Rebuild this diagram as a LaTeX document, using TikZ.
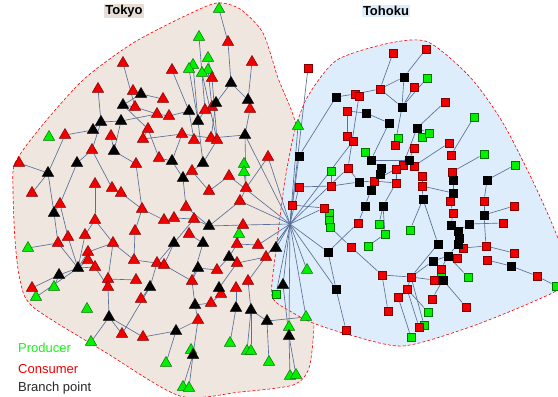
\documentclass[tikz,border=0pt]{standalone}
\usepackage{fontspec}
\setmainfont{Liberation Sans}
\usetikzlibrary{shapes.geometric,backgrounds}
\definecolor{tkfill}{HTML}{EFE6DF}
\definecolor{thfill}{HTML}{DDEDFB}
\definecolor{prodgreen}{HTML}{00F000}
\definecolor{consred}{HTML}{F00000}
\definecolor{linkblue}{HTML}{5A6F98}

\tikzset{
  tri/.style={regular polygon, regular polygon sides=3, minimum size=13pt, inner sep=0pt},
  sq/.style={rectangle, minimum size=8.5pt, inner sep=0pt},
  prod/.style={fill=prodgreen, draw=green!45!black, line width=0.5pt},
  cons/.style={fill=consred, draw=red!50!black, line width=0.5pt},
  branch/.style={fill=black, draw=black, line width=0.5pt},
  link/.style={draw=linkblue, line width=0.65pt},
  region/.style={draw=red, densely dashed, line width=0.6pt},
  legend/.style={anchor=west, inner sep=0pt, font=\fontsize{13}{15}\selectfont}
}

\begin{document}
\begin{tikzpicture}[x=1pt, y=-1pt]
\useasboundingbox (0,0) rectangle (558,397);

% Tokyo nodes
\foreach \n/\x/\y in {tp1/219/9, tp2/199/37, tp3/208/58, tp4/193/65, tp5/189/69, tp6/208/70,
  tp7/202/73, tp8/49/137, tp9/244/164, tp10/244/172, tp11/239/234, tp12/28/248, tp13/54/287,
  tp14/36/297, tp15/87/309, tp16/91/342, tp17/230/343, tp18/191/350, tp19/247/351, tp20/251/351,
  tp21/166/363, tp22/269/362, tp23/183/387, tp24/189/388, tp25/298/126, tp26/307/270,
  tp27/306/317, tp28/289/327, tp29/290/376, tp30/296/375}
  \node[tri, prod] (\n) at (\x,\y) {};
\foreach \n/\x/\y in {tc1/228/42, tc2/123/63, tc3/172/70, tc4/252/62, tc5/212/78, tc6/98/89,
  tc7/133/91, tc8/163/99, tc9/135/107, tc10/212/107, tc11/205/110, tc12/250/109, tc13/157/114,
  tc14/169/116, tc15/148/129, tc16/65/135, tc17/111/136, tc18/143/139, tc19/182/134, tc20/194/140,
  tc21/211/138, tc22/217/140, tc23/92/150, tc24/19/163, tc25/136/164, tc26/159/158, tc27/268/157,
  tc28/192/171, tc29/229/176, tc30/95/184, tc31/112/188, tc32/121/193, tc33/32/193, tc34/209/191,
  tc35/246/188, tc36/240/201, tc37/60/204, tc38/142/209, tc39/186/207, tc40/95/220, tc41/164/220,
  tc42/174/218, tc43/194/219, tc44/243/225, tc45/68/237, tc46/85/235, tc47/135/231, tc48/189/234,
  tc49/58/243, tc50/113/243, tc51/237/244, tc52/258/245, tc53/88/252, tc54/88/260, tc55/134/260,
  tc56/157/263, tc57/164/265, tc58/237/263, tc59/266/257, tc60/95/267, tc61/217/270, tc62/108/279,
  tc63/136/280, tc64/192/281, tc65/248/281, tc66/32/288, tc67/108/287, tc68/221/294, tc69/236/288,
  tc70/141/299, tc71/211/303, tc72/198/320, tc73/122/334, tc74/143/337}
  \node[tri, cons] (\n) at (\x,\y) {};
\foreach \n/\x/\y in {tb1/231/83, tb2/141/94, tb3/248/100, tb4/216/103, tb5/123/105, tb6/189/111,
  tb7/101/122, tb8/121/121, tb9/198/121, tb10/93/130, tb11/245/135, tb12/114/151, tb13/77/163,
  tb14/172/161, tb15/203/163, tb16/48/173, tb17/183/178, tb18/54/213, tb19/209/226, tb20/174/243,
  tb21/203/243, tb22/276/248, tb23/229/257, tb24/78/268, tb25/198/268, tb26/59/275, tb27/150/287,
  tb28/219/288, tb29/283/285, tb30/195/305, tb31/236/308, tb32/251/310, tb33/109/317, tb34/267/321,
  tb35/176/331, tb36/193/355, tb37/289/336}
  \node[tri, branch] (\n) at (\x,\y) {};

% Tohoku nodes
\foreach \n/\x/\y in {hp1/427/78, hp2/474/117, hp3/398/138, hp4/422/137, hp5/429/133, hp6/365/152,
  hp7/484/154, hp8/515/165, hp9/331/171, hp10/329/213, hp11/329/220, hp12/330/227, hp13/379/224,
  hp14/410/230, hp15/385/234, hp16/368/246, hp17/468/277, hp18/441/275, hp19/556/286, hp20/428/312,
  hp21/424/325, hp22/411/337, hp23/276/294}
  \node[sq, prod] (\n) at (\x,\y) {};
\foreach \n/\x/\y in {hc1/308/68, hc2/393/53, hc3/426/49, hc4/414/87, hc5/380/89, hc6/355/94,
  hc7/359/96, hc8/445/102, hc9/347/111, hc10/347/136, hc11/353/141, hc12/395/145, hc13/414/148,
  hc14/449/143, hc15/451/155, hc16/403/165, hc17/414/166, hc18/396/169, hc19/348/168, hc20/452/172,
  hc21/422/176, hc22/422/186, hc23/396/183, hc24/374/181, hc25/331/186, hc26/299/187, hc27/450/201,
  hc28/484/201, hc29/514/206, hc30/292/205, hc31/324/208, hc32/453/213, hc33/358/223, hc34/503/223,
  hc35/351/247, hc36/463/248, hc37/486/246, hc38/514/253, hc39/457/258, hc40/487/260, hc41/441/269,
  hc42/537/276, hc43/382/275, hc44/411/277, hc45/434/280, hc46/407/289, hc47/398/297, hc48/432/299,
  hc49/466/307, hc50/388/311, hc51/419/327, hc52/346/330}
  \node[sq, cons] (\n) at (\x,\y) {};
\foreach \n/\x/\y in {hb1/404/77, hb2/336/97, hb3/402/107, hb4/366/113, hb5/389/123, hb6/417/128,
  hb7/299/156, hb8/371/160, hb9/381/168, hb10/380/174, hb11/409/160, hb12/453/180, hb13/487/180,
  hb14/359/182, hb15/371/190, hb16/453/193, hb17/423/199, hb18/365/206, hb19/383/206, hb20/484/215,
  hb21/451/225, hb22/469/224, hb23/458/231, hb24/459/238, hb25/458/244, hb26/438/244, hb27/328/252,
  hb28/448/256, hb29/433/261, hb30/511/266, hb31/443/280, hb32/336/289}
  \node[sq, branch] (\n) at (\x,\y) {};

\coordinate (hub) at (290,224);

% labels and legend
\node[fill=tkfill!92!gray, inner sep=1pt, font=\bfseries\fontsize{13}{15}\selectfont] (tokyolbl) at (124,11) {Tokyo};
\node[fill=thfill, inner sep=1pt, font=\bfseries\fontsize{13}{15}\selectfont] (tohokulbl) at (386,11) {Tohoku};
\node[legend, text=prodgreen!90!white] (lgprod) at (18,348) {Producer};
\node[legend, text=consred] (lgcons) at (18,369) {Consumer};
\node[legend, text=black!85] (lgbranch) at (18,388) {Branch point};

\begin{pgfonlayer}{background}
  \draw[region, fill=tkfill] plot[smooth cycle, tension=0.45] coordinates {
    (13,190) (15,163) (40,128) (83,80) (133,43) (187,15) (217,3) (240,9) (263,33) (278,78)
    (296,125) (305,200) (312,280) (314,325) (309,368) (293,385) (240,392) (180,396) (105,352)
    (33,307) (20,280) (15,240)};
  \draw[region, fill=thfill] plot[smooth cycle, tension=0.45] coordinates {
    (272,296) (276,250) (285,180) (295,130) (308,96) (337,60) (390,43) (428,42) (470,77)
    (503,123) (537,190) (562,250) (562,285) (537,300) (470,327) (403,346) (350,335) (313,323)
    (290,311)};

  % Tokyo links
  \foreach \a/\b in {tp1/tc1, tc1/tb1, tb1/tb4, tb1/tb3, tc4/tb3, tb3/tc12, tc12/tb11, tb11/tc21,
    tc21/tc19, tc19/tc18, tb11/tc35, tc35/tc27, tc35/tc36, tp2/tc11, tp3/tc5, tp4/tb9, tp5/tb9,
    tp6/tc10, tp7/tc22, tc5/tc22, tb4/tc21, tc10/tb4, tc11/tb9, tc3/tb6, tb6/tc20, tb9/tb15,
    tb15/tc22, tb15/tc28, tc28/tb17, tc28/tc34, tc34/tc29, tp9/tp10, tp10/tc35, tc2/tc9, tc6/tb7,
    tc7/tb2, tb2/tc8, tb2/tb5, tb5/tc9, tc9/tc13, tc13/tc14, tc14/tb6, tb8/tc13, tb7/tb10, tb7/tb8,
    tb10/tc16, tc16/tb16, tb16/tc24, tb16/tc33, tb16/tb18, tb13/tc23, tb13/tc37, tc23/tb7,
    tc23/tc31, tb12/tb8, tb12/tc17, tb12/tc25, tc31/tc32, tc30/tc40, tc15/tc26, tc15/tb5,
    tc26/tb14, tb14/tc19, tb14/tb17, tc25/tc38, tb17/tc39, tc18/tc15, tb18/tc37, tb18/tc49,
    tc37/tc45, tc40/tc46, tc40/tc50, tc46/tb24, tc45/tb24, tc49/tb24, tb24/tc53, tb24/tc54,
    tb24/tb26, tb26/tc66, tb26/tp13, tb24/tp14, tc50/tc53, tc50/tc55, tc50/tc62, tc62/tc63,
    tc62/tc67, tc67/tb33, tb33/tp16, tb33/tc73, tc73/tb27, tb33/tc74, tc74/tb35, tp12/tc49,
    tc47/tc38, tc38/tc41, tc41/tc42, tc42/tc43, tc43/tb19, tb19/tc39, tc43/tb20, tb20/tc56,
    tb20/tc57, tc56/tb27, tb27/tc70, tc57/tc64, tb21/tc64, tc64/tb25, tb25/tc61, tc61/tb23,
    tb23/tc58, tb23/tc51, tc58/tb28, tb28/tc68, tc68/tc71, tc71/tb30, tb30/tc64, tb30/tc72,
    tc72/tb36, tc72/tb35, tb36/tp18, tb36/tp23, tb36/tp24, tb35/tp21, tb31/tp17, tb32/tp19,
    tb32/tp20, tb34/tp22, tc69/tb31, tc65/tb32, tb32/tb34, tb34/tp27, tb37/tp28, tb37/tp29,
    tb37/tp30, tb29/tb37, tc48/tb21, tc51/tc52, tc60/tb24, tc60/tc67, tc36/tb19, tc55/tc56,
    tc59/tc58, tp11/tc51, tc47/tc55, tc32/tc38, tc44/tb19}
    \draw[link] (\a) -- (\b);

  % Tohoku links
  \foreach \a/\b in {hc2/hc5, hc3/hb1, hb1/hc5, hb1/hb3, hc5/hb3, hc5/hc6, hp1/hb3, hc4/hb3,
    hb3/hc12, hb4/hb5, hc9/hb4, hb2/hb7, hc7/hc19, hc6/hb2, hc8/hb6, hb6/hp5, hb6/hp4, hb6/hc16,
    hb5/hb8, hp2/hc15, hc14/hc17, hp7/hc20, hp8/hb13, hb13/hc28, hc28/hb20, hc29/hb20, hb22/hc34,
    hb20/hc37, hc37/hc38, hb30/hc42, hc42/hp19, hc40/hb30, hb12/hc20, hb12/hb16, hb16/hc27,
    hc27/hc32, hc32/hb21, hb21/hb23, hb23/hb24, hb24/hb25, hb25/hb28, hb25/hc36, hb28/hc41,
    hb28/hb29, hb29/hc44, hc41/hb31, hb31/hc45, hb31/hc48, hc45/hc44, hc44/hc43, hc44/hc46,
    hc46/hc47, hc46/hp20, hc46/hc51, hc44/hp21, hc47/hp22, hc43/hc50, hb26/hc44, hb17/hc22,
    hb17/hb26, hb28/hp17, hc39/hb28, hc49/hb31, hb22/hb23, hc26/hc25, hc25/hb14, hb14/hc24,
    hc24/hc23, hc24/hb15, hc19/hb14, hc10/hc11, hc9/hc10, hb8/hb9, hb9/hb10, hb10/hc24,
    hc16/hc18, hc17/hb11, hb11/hc21, hc21/hc22, hc18/hc23, hb15/hb18, hb18/hc33, hb19/hp15,
    hp13/hb19, hp15/hp16, hc30/hc31, hp9/hc25, hp12/hc35, hc35/hc43, hc33/hb27, hb27/hb32,
    hb32/hc52, hp6/hb8, hp3/hc12, hc13/hb11, hb19/hc23, hp14/hb17, hc22/hb16, hp11/hc31,
    hb8/hb11, hc24/hc16, hp18/hc41, hc36/hc37}
    \draw[link] (\a) -- (\b);

  % links through the hub
  \foreach \b in {hc1, hb7, hc26, hc30, hb27, hb32, hc31, hc11, hc19, tp25, tc27, tc36, tc52,
    tc59, tb22, tb29, tp26, hp23, tp27, tp28, tc65, tc44, tb11, tc29}
    \draw[link] (hub) -- (\b);
\end{pgfonlayer}
\end{tikzpicture}
\end{document}
